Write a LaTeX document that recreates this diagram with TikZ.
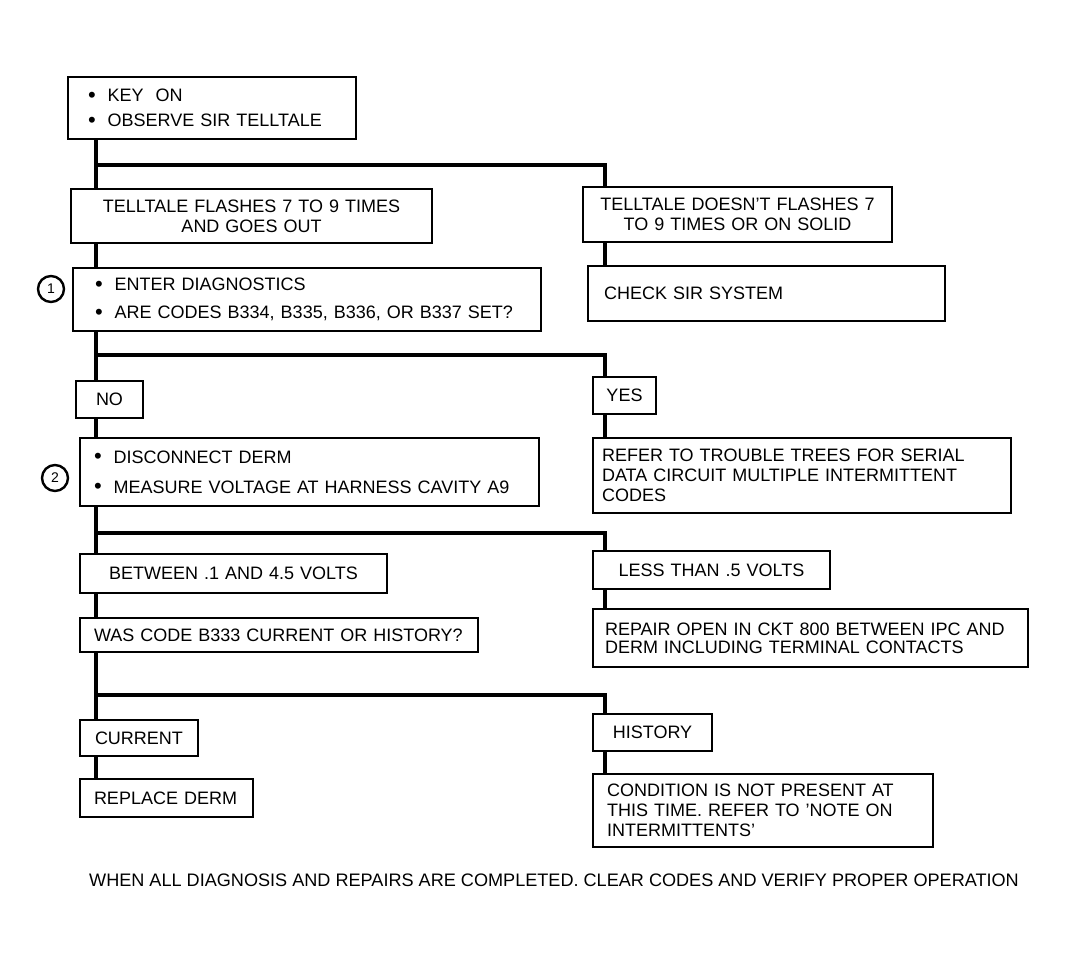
\documentclass[tikz,border=0pt]{standalone}
\usepackage{fontspec}
\setmainfont{Liberation Sans}
\begin{document}
\begin{tikzpicture}[x=1pt,y=-1pt,
  box/.style={draw=black, line width=2pt, inner ysep=0pt, font=\fontsize{18}{21}\selectfont},
  conn/.style={draw=black, line width=3.6pt, line cap=rect, line join=miter},
  num/.style={circle, draw=black, line width=2.4pt, minimum size=26pt, inner sep=0pt, font=\fontsize{14}{16}\selectfont},
  foot/.style={font=\fontsize{18.1}{21}\selectfont}]
\useasboundingbox (0,0) rectangle (1065,966);
\newcommand\bx[8]{%
  \pgfmathsetmacro\tw{#4-#2-2*#6}%
  \pgfmathsetmacro\th{#5-#3}%
  \node[box, anchor=north west, inner xsep=#6pt, text width=\tw pt, minimum height=\th pt, align=#7] (#1) at (#2,#3) {#8};}
\newcommand\bul{\raisebox{-0.5pt}{\fontsize{22}{21}\selectfont\textbullet}\hspace{12pt}}
% boxes
\bx{key}{67}{76}{355}{138}{20}{left}{\bul KEY\ \ ON\\[4pt]\bul OBSERVE SIR TELLTALE}
\bx{flash}{70}{188}{431}{242}{8}{center}{TELLTALE FLASHES 7 TO 9 TIMES\\[-1pt]AND GOES OUT}
\bx{noflash}{582}{186}{891}{241}{8}{center}{TELLTALE DOESN'T FLASHES 7\\[-1pt]TO 9 TIMES OR ON SOLID}
\bx{check}{587}{265}{944}{320}{16}{left}{CHECK SIR SYSTEM}
\bx{enter}{72}{267}{540}{330}{22}{left}{\bul ENTER DIAGNOSTICS\\[7pt]\bul ARE CODES B334, B335, B336, OR B337 SET?}
\bx{no}{75}{380}{142}{417}{4}{center}{NO}
\bx{yes}{592}{376}{655}{413}{4}{center}{YES}
\bx{disc}{79}{437}{538}{505}{14}{left}{\bul DISCONNECT DERM\\[9pt]\bul MEASURE VOLTAGE AT HARNESS CAVITY A9}
\bx{refer}{592}{437}{1010}{512}{9}{left}{REFER TO TROUBLE TREES FOR SERIAL\\[-1pt]DATA CIRCUIT MULTIPLE INTERMITTENT\\[-1pt]CODES}
\bx{betw}{79}{553}{386}{592}{8}{center}{BETWEEN .1 AND 4.5 VOLTS}
\bx{less}{592}{550}{829}{588}{8}{center}{LESS THAN .5 VOLTS}
\bx{was}{79}{617}{477}{651}{14}{left}{WAS CODE B333 CURRENT OR HISTORY?}
\bx{repair}{592}{608}{1027}{666}{12}{left}{REPAIR OPEN IN CKT 800 BETWEEN IPC AND\\[-3pt]DERM INCLUDING TERMINAL CONTACTS}
\bx{current}{79}{719}{197}{755}{4}{center}{CURRENT}
\bx{history}{592}{713}{711}{750}{4}{center}{HISTORY}
\bx{replace}{79}{778}{252}{816}{6}{left}{\hspace*{8pt}REPLACE DERM}
\bx{cond}{592}{773}{932}{846}{14}{left}{CONDITION IS NOT PRESENT AT\\[-1pt]THIS TIME. REFER TO 'NOTE ON\\[-1pt]INTERMITTENTS'}
% step numbers
\node[num] (n1) at (51,289) {1};
\node[num] (n2) at (55,478) {2};
% footer
\node[foot] (footer) at (554,880) {WHEN ALL DIAGNOSIS AND REPAIRS ARE COMPLETED. CLEAR CODES AND VERIFY PROPER OPERATION};
% trunk / branch coordinates
\coordinate (X) at (96,0);
\coordinate (R) at (605,0);
\coordinate (h1) at (96,165);
\coordinate (h2) at (96,355);
\coordinate (h3) at (96,533);
\coordinate (h4) at (96,695);
% connectors
\draw[conn] (key.south -| X) -- (flash.north -| X);
\draw[conn] (h1) -| (noflash.north -| R);
\draw[conn] (noflash.south -| R) -- (check.north -| R);
\draw[conn] (flash.south -| X) -- (enter.north -| X);
\draw[conn] (enter.south -| X) -- (no.north -| X);
\draw[conn] (h2) -| (yes.north -| R);
\draw[conn] (no.south -| X) -- (disc.north -| X);
\draw[conn] (yes.south -| R) -- (refer.north -| R);
\draw[conn] (disc.south -| X) -- (betw.north -| X);
\draw[conn] (h3) -| (less.north -| R);
\draw[conn] (betw.south -| X) -- (was.north -| X);
\draw[conn] (less.south -| R) -- (repair.north -| R);
\draw[conn] (was.south -| X) -- (current.north -| X);
\draw[conn] (h4) -| (history.north -| R);
\draw[conn] (current.south -| X) -- (replace.north -| X);
\draw[conn] (history.south -| R) -- (cond.north -| R);
\end{tikzpicture}
\end{document}
